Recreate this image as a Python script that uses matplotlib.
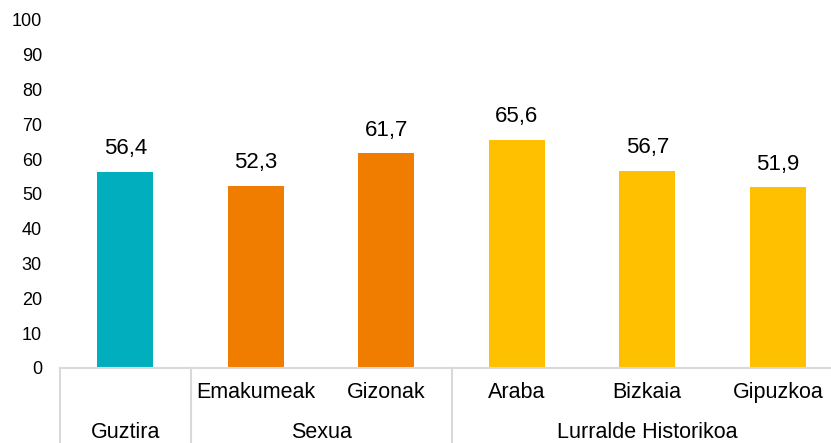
import matplotlib.pyplot as plt
from matplotlib.transforms import blended_transform_factory

plt.rcParams['font.family'] = ['Liberation Sans', 'DejaVu Sans']

categories = ["Guztira", "Emakumeak", "Gizonak", "Araba", "Bizkaia", "Gipuzkoa"]
values = [56.4, 52.3, 61.7, 65.6, 56.7, 51.9]
colors = ["#00AEBD", "#F07D00", "#F07D00", "#FFC000", "#FFC000", "#FFC000"]
# group name, first index, last index
groups = [("Guztira", 0, 0), ("Sexua", 1, 2), ("Lurralde Historikoa", 3, 5)]

fig = plt.figure(figsize=(8.31, 4.43), dpi=100)
ax = fig.add_axes([60 / 831, 75 / 443, 783 / 831, 348 / 443])

x = list(range(len(categories)))
ax.bar(x, values, width=0.43, color=colors)
for xi, v in zip(x, values):
    ax.annotate(f"{v:.1f}".replace(".", ","), (xi, v), xytext=(0, 9),
                textcoords="offset points", ha="center", va="bottom", fontsize=16)

ax.set_xlim(-0.5, 5.5)
ax.set_ylim(0, 100)
ax.set_yticks(range(0, 101, 10))
ax.tick_params(axis="y", length=0, labelsize=13, pad=13)
ax.set_xticks([])
for s in ["top", "right", "left"]:
    ax.spines[s].set_visible(False)
ax.spines["bottom"].set_color("#D9D9D9")
ax.spines["bottom"].set_linewidth(1.5)

tr = blended_transform_factory(ax.transData, ax.transAxes)
# first row: sub-category labels (except the single Guztira bar)
for xi, c in zip(x, categories):
    if xi == 0:
        continue
    ax.text(xi, -0.069, c, transform=tr, ha="center", va="center", fontsize=15.5)
# second row: group labels and separators
for name, a, b in groups:
    ax.text((a + b) / 2, -0.184, name, transform=tr, ha="center", va="center", fontsize=15.5)
    ax.plot([a - 0.5, a - 0.5], [0, -0.22], transform=tr, color="#D9D9D9",
            lw=1.5, clip_on=False)

fig.savefig("out.png", dpi=100)
